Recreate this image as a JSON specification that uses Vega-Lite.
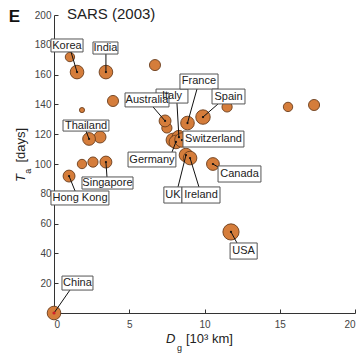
{
  "$schema": "https://vega.github.io/schema/vega-lite/v6.json",
  "width": 301,
  "height": 298,
  "autosize": "none",
  "padding": {"left": 54, "top": 15, "right": 5, "bottom": 45},
  "background": "white",
  "config": {
    "view": {"stroke": null},
    "font": "Liberation Sans",
    "axis": {
      "grid": false,
      "domainColor": "#333",
      "tickColor": "#333",
      "tickSize": -4,
      "labelFont": "Liberation Sans",
      "labelFontSize": 10,
      "labelColor": "#444",
      "labelOverlap": false,
      "labelSeparation": 0,
      "title": null
    },
    "axisX": {"labelPadding": 10, "tickCount": 4},
    "axisY": {"labelPadding": 7, "tickCount": 10, "labelExpr": "datum.value == 0 ? '' : datum.label"}
  },
  "datasets": {
    "pts": [
      {"x": 1.06, "y": 171.8, "m": 5.5},
      {"x": 6.71, "y": 166.4, "m": 6.5},
      {"x": 3.92, "y": 142.3, "m": 6.5},
      {"x": 1.86, "y": 136.2, "m": 3},
      {"x": 3.06, "y": 118.1, "m": 7},
      {"x": 1.86, "y": 100, "m": 5.5},
      {"x": 2.59, "y": 101.3, "m": 6},
      {"x": 7.5, "y": 124.2, "m": 6},
      {"x": 11.5, "y": 138.3, "m": 6},
      {"x": 7.9, "y": 116.1, "m": 8},
      {"x": 15.55, "y": 138.3, "m": 5.5},
      {"x": 17.28, "y": 139.6, "m": 6.5},
      {"x": 1.53, "y": 161.7, "m": 8},
      {"x": 3.45, "y": 161.7, "m": 8},
      {"x": 2.33, "y": 116.8, "m": 7.5},
      {"x": 3.45, "y": 101.3, "m": 7},
      {"x": 1.0, "y": 91.9, "m": 7},
      {"x": 0, "y": 0, "m": 8},
      {"x": 8.3, "y": 118, "m": 8},
      {"x": 7.38, "y": 128.9, "m": 7},
      {"x": 8.87, "y": 127.5, "m": 8},
      {"x": 9.9, "y": 131.5, "m": 8.5},
      {"x": 8.1, "y": 114.8, "m": 8},
      {"x": 8.5, "y": 116.1, "m": 8.5},
      {"x": 8.77, "y": 106, "m": 8},
      {"x": 9.04, "y": 104, "m": 8},
      {"x": 10.56, "y": 100, "m": 7.5},
      {"x": 11.76, "y": 54.4, "m": 9.5}
    ],
    "labels": [
      {"name": "Korea", "x": 1.53, "y": 161.7, "lx": 0.86, "ly": 179.5, "ax": 1.13, "ay": 175.2, "bx1": -0.2, "bx2": 1.93, "by1": 175.2, "by2": 183.9},
      {"name": "India", "x": 3.45, "y": 161.7, "lx": 3.42, "ly": 177.9, "ax": 3.45, "ay": 173.8, "bx1": 2.59, "bx2": 4.25, "by1": 173.8, "by2": 181.9},
      {"name": "Thailand", "x": 2.33, "y": 116.8, "lx": 2.13, "ly": 125.8, "ax": 2.13, "ay": 122.1, "bx1": 0.6, "bx2": 3.65, "by1": 122.1, "by2": 129.5},
      {"name": "Singapore", "x": 3.45, "y": 101.3, "lx": 3.55, "ly": 87.2, "ax": 3.52, "ay": 91.3, "bx1": 1.86, "bx2": 5.25, "by1": 83.2, "by2": 91.3},
      {"name": "Hong Kong", "x": 1.0, "y": 91.9, "lx": 1.73, "ly": 77.2, "ax": 1.4, "ay": 81.9, "bx1": -0.2, "bx2": 3.65, "by1": 72.5, "by2": 81.9},
      {"name": "China", "x": 0, "y": 0, "lx": 1.56, "ly": 20.1, "ax": 1.06, "ay": 15.4, "bx1": 0.53, "bx2": 2.59, "by1": 15.4, "by2": 24.8},
      {"name": "Italy", "x": 8.3, "y": 118, "lx": 7.84, "ly": 145.6, "ax": 8.17, "ay": 140.9, "bx1": 6.78, "bx2": 8.9, "by1": 140.9, "by2": 150.3},
      {"name": "Australia", "x": 7.38, "y": 128.9, "lx": 6.18, "ly": 143, "ax": 6.58, "ay": 138.3, "bx1": 4.72, "bx2": 7.64, "by1": 138.3, "by2": 147.7},
      {"name": "France", "x": 8.87, "y": 127.5, "lx": 9.63, "ly": 155.4, "ax": 9.5, "ay": 150.3, "bx1": 8.37, "bx2": 10.9, "by1": 150.3, "by2": 160.4},
      {"name": "Spain", "x": 9.9, "y": 131.5, "lx": 11.6, "ly": 145.3, "ax": 10.9, "ay": 140.3, "bx1": 10.5, "bx2": 12.69, "by1": 140.3, "by2": 150.3},
      {"name": "Germany", "x": 8.1, "y": 114.8, "lx": 6.51, "ly": 103, "ax": 7.84, "ay": 108, "bx1": 4.92, "bx2": 8.1, "by1": 98, "by2": 108},
      {"name": "Switzerland", "x": 8.5, "y": 116.1, "lx": 10.6, "ly": 116.8, "ax": 8.64, "ay": 116.8, "bx1": 8.57, "bx2": 12.62, "by1": 111.4, "by2": 122.1},
      {"name": "UK", "x": 8.77, "y": 106, "lx": 7.9, "ly": 79.2, "ax": 8.24, "ay": 84.6, "bx1": 7.3, "bx2": 8.5, "by1": 73.8, "by2": 84.6},
      {"name": "Ireland", "x": 9.04, "y": 104, "lx": 9.77, "ly": 79.2, "ax": 9.63, "ay": 84.6, "bx1": 8.5, "bx2": 11.03, "by1": 73.8, "by2": 84.6},
      {"name": "Canada", "x": 10.56, "y": 100, "lx": 12.33, "ly": 93.3, "ax": 10.9, "ay": 98, "bx1": 10.9, "bx2": 13.75, "by1": 87.9, "by2": 98.7},
      {"name": "USA", "x": 11.76, "y": 54.4, "lx": 12.6, "ly": 41.6, "ax": 12.16, "ay": 47, "bx1": 11.7, "bx2": 13.5, "by1": 36.2, "by2": 47}
    ],
    "one": [{}]
  },
  "layer": [
    {
      "data": {"name": "pts"},
      "mark": {"type": "circle", "fill": "#d57d3b", "stroke": "#6b3d1c", "strokeWidth": 0.9, "opacity": 1},
      "encoding": {
        "x": {"field": "x", "type": "quantitative", "scale": {"domain": [0, 20], "nice": false}},
        "y": {"field": "y", "type": "quantitative", "scale": {"domain": [0, 200], "nice": false}},
        "size": {"field": "m", "type": "quantitative", "scale": {"type": "pow", "exponent": 2, "domain": [0, 10], "range": [0, 290]}, "legend": null}
      }
    },
    {
      "data": {"name": "labels"},
      "mark": {"type": "rule", "color": "#111", "strokeWidth": 1},
      "encoding": {
        "x": {"field": "ax", "type": "quantitative"},
        "y": {"field": "ay", "type": "quantitative"},
        "x2": {"field": "x"},
        "y2": {"field": "y"}
      }
    },
    {
      "data": {"name": "labels"},
      "mark": {"type": "circle", "fill": "#111", "size": 5, "opacity": 1},
      "encoding": {
        "x": {"field": "x", "type": "quantitative"},
        "y": {"field": "y", "type": "quantitative"}
      }
    },
    {
      "data": {"values": [{"x": 0, "y": 0}]},
      "mark": {"type": "circle", "fill": "#d0202a", "size": 10, "opacity": 1},
      "encoding": {
        "x": {"field": "x", "type": "quantitative"},
        "y": {"field": "y", "type": "quantitative"}
      }
    },
    {
      "data": {"name": "labels"},
      "mark": {"type": "rect", "fill": "white", "stroke": "#555", "strokeWidth": 1},
      "encoding": {
        "x": {"field": "bx1", "type": "quantitative"},
        "x2": {"field": "bx2"},
        "y": {"field": "by1", "type": "quantitative"},
        "y2": {"field": "by2"}
      }
    },
    {
      "data": {"name": "labels"},
      "mark": {"type": "text", "fontSize": 11, "color": "#222", "align": "center", "baseline": "middle", "font": "Liberation Sans"},
      "encoding": {
        "x": {"field": "lx", "type": "quantitative"},
        "y": {"field": "ly", "type": "quantitative"},
        "text": {"field": "name"}
      }
    },
    {
      "data": {"name": "one"},
      "mark": {"type": "text", "text": "E", "fontSize": 17, "fontWeight": "bold", "align": "left", "baseline": "middle", "color": "#111"},
      "encoding": {"x": {"datum": -3.0}, "y": {"datum": 198.7}}
    },
    {
      "data": {"name": "one"},
      "mark": {"type": "text", "text": "SARS (2003)", "fontSize": 15, "align": "left", "baseline": "middle", "color": "#222"},
      "encoding": {"x": {"datum": 0.86}, "y": {"datum": 200.5}}
    },
    {
      "data": {"name": "one"},
      "mark": {"type": "text", "text": "D", "fontSize": 13, "fontStyle": "italic", "align": "left", "baseline": "alphabetic", "color": "#222"},
      "encoding": {"x": {"datum": 7.45}, "y": {"datum": -20.1}}
    },
    {
      "data": {"name": "one"},
      "mark": {"type": "text", "text": "g", "fontSize": 9, "align": "left", "baseline": "alphabetic", "color": "#222"},
      "encoding": {"x": {"datum": 8.17}, "y": {"datum": -25.5}}
    },
    {
      "data": {"name": "one"},
      "mark": {"type": "text", "text": "[10³ km]", "fontSize": 13, "align": "left", "baseline": "alphabetic", "color": "#222"},
      "encoding": {"x": {"datum": 8.77}, "y": {"datum": -20.1}}
    },
    {
      "data": {"name": "one"},
      "mark": {"type": "text", "text": "T", "fontSize": 13, "fontStyle": "italic", "align": "left", "baseline": "alphabetic", "angle": 270, "color": "#222"},
      "encoding": {"x": {"datum": -1.9}, "y": {"datum": 88}}
    },
    {
      "data": {"name": "one"},
      "mark": {"type": "text", "text": "a", "fontSize": 9, "align": "left", "baseline": "alphabetic", "angle": 270, "color": "#222"},
      "encoding": {"x": {"datum": -1.55}, "y": {"datum": 93.5}}
    },
    {
      "data": {"name": "one"},
      "mark": {"type": "text", "text": "[days]", "fontSize": 13, "align": "left", "baseline": "alphabetic", "angle": 270, "color": "#222"},
      "encoding": {"x": {"datum": -1.9}, "y": {"datum": 101}}
    }
  ]
}
